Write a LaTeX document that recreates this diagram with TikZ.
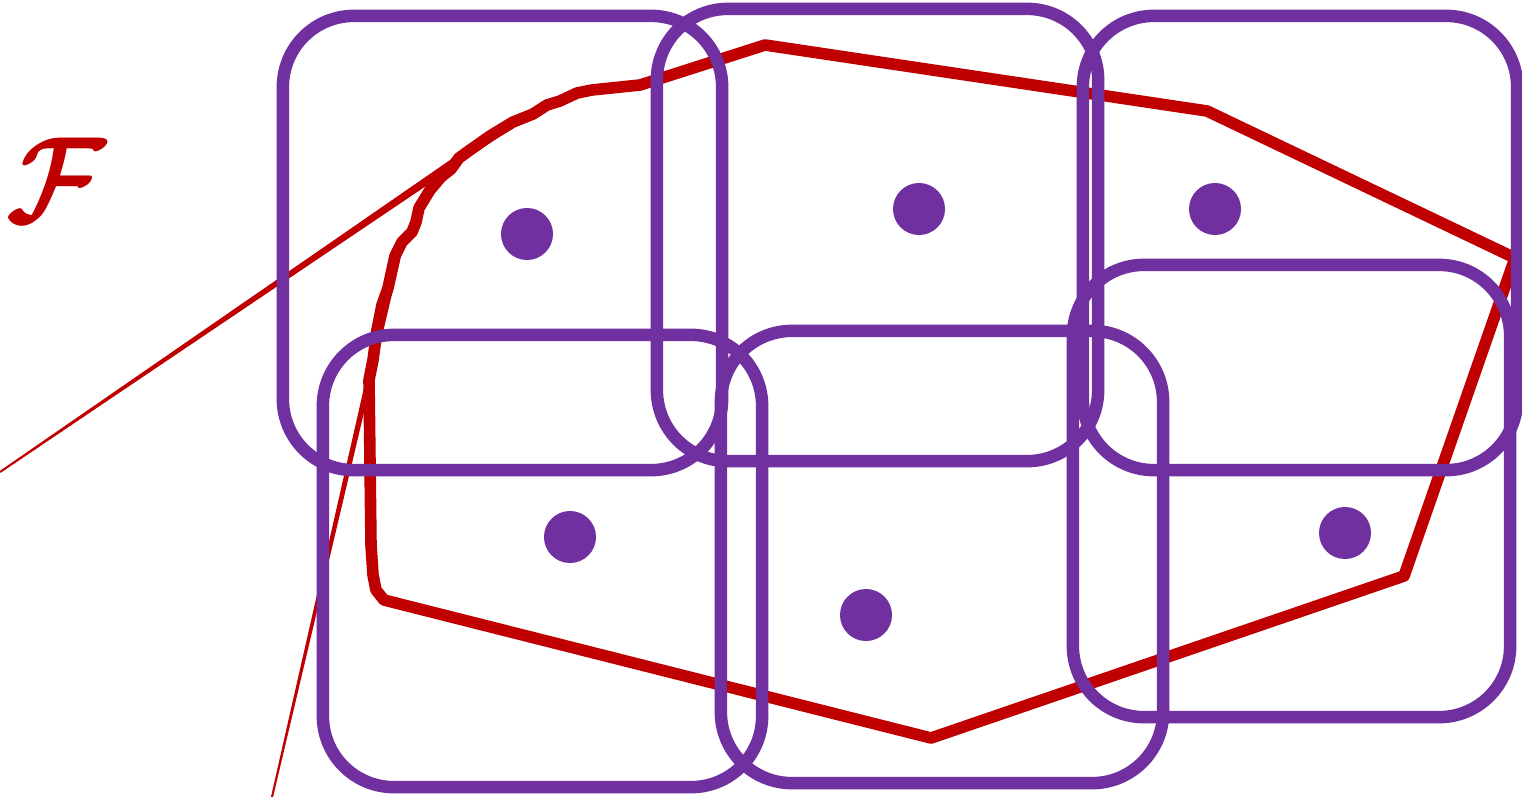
\documentclass[tikz,border=0pt]{standalone}
\definecolor{setred}{RGB}{192,0,0}
\definecolor{setpurple}{RGB}{112,48,160}
\newcommand{\famlabel}{\scalebox{3.1}[3.5]{\boldmath$\mathcal{F}$}}
\begin{document}
\begin{tikzpicture}[x=0.01cm, y=-0.01cm,
  cell/.style={rectangle, draw=setpurple, line width=3.55pt, rounded corners=0.71cm, inner sep=0pt},
  site/.style={circle, fill=setpurple, minimum size=0.52cm, inner sep=0pt},
  hull/.style={draw=setred, line width=3.3pt, line join=round}]
  \useasboundingbox (0,0) rectangle (1522,797);
  \fill[setred] (0.6,472.8) -- (515.5,125.7) -- (510.5,118.3) -- (-0.6,471.2) -- cycle;
  \fill[setred] (273,797.2) -- (403.4,245.8) -- (396.6,244.2) -- (271,796.8) -- cycle;
  \draw[hull] (640,85) -- (765,45) -- (1207,111) -- (1515,258) -- (1404,576) -- (931,738)
    -- (384,600) -- (376,590) -- (373,575) -- (371,545) -- (369,380) -- (373,360)
    -- (377,330) -- (382,305) -- (388,288) -- (395,256) -- (402,242) -- (412,232)
    -- (416,222) -- (419,208) -- (430,190) -- (441,177) -- (451,169) -- (459,158)
    -- (470,150) -- (490,136) -- (513,122) -- (533,114) -- (547,105) -- (560,101)
    -- (577,93) -- (592,90) -- cycle;
  \node[cell, minimum width=4.39cm, minimum height=4.54cm] (c1) at (502.5,243) {};
  \node[cell, minimum width=4.41cm, minimum height=4.52cm] (c2) at (877.5,235) {};
  \node[cell, minimum width=4.34cm, minimum height=4.54cm] (c3) at (1300,243) {};
  \node[cell, minimum width=4.39cm, minimum height=4.52cm] (c4) at (542.5,561) {};
  \node[cell, minimum width=4.42cm, minimum height=4.52cm] (c5) at (942,557) {};
  \node[cell, minimum width=4.37cm, minimum height=4.52cm] (c6) at (1291.5,491) {};
  \node[site] (s1) at (527,234) {};
  \node[site] (s2) at (919,209) {};
  \node[site] (s3) at (1215,209) {};
  \node[site] (s4) at (570,537) {};
  \node[site] (s5) at (866,615) {};
  \node[site] (s6) at (1345,533) {};
  \node[text=setred, inner sep=0pt] (fam) at (56,180) {\famlabel};
\end{tikzpicture}
\end{document}
